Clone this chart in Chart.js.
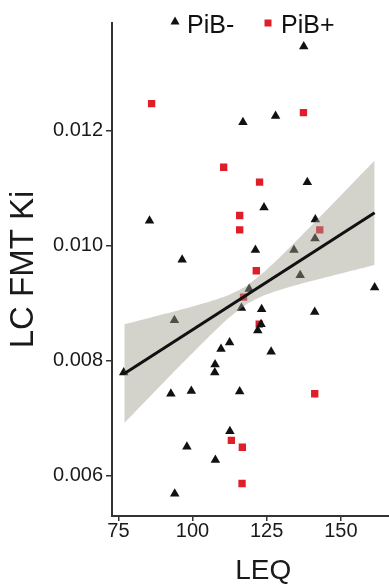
<!DOCTYPE html>
<html>
<head>
<meta charset="utf-8">
<script src="https://cdn.jsdelivr.net/npm/chart.js@4"></script>
<style>
  html, body { margin: 0; padding: 0; background: #fff; overflow: hidden; }
  #wrap { width: 420px; height: 585px; }
</style>
</head>
<body>
<div id="wrap"><canvas id="chart" width="420" height="585"></canvas></div>
<script>
// DATA
const pibNegX = [137.5, 117.0, 128.0, 138.7, 124.1, 85.5, 141.4, 141.3, 121.2, 134.2, 96.5, 136.3, 119.1, 161.4, 116.5, 123.3, 141.2, 93.9, 123.1, 122.0, 112.5, 109.6, 126.5, 76.8, 107.6, 107.5, 92.7, 99.6, 115.9, 112.6, 98.1, 107.7, 94.0];
const pibNegY = [0.01347, 0.01215, 0.01226, 0.01111, 0.01067, 0.01044, 0.01046, 0.01013, 0.00993, 0.00993, 0.00976, 0.00949, 0.00925, 0.00928, 0.00892, 0.00890, 0.00885, 0.00871, 0.00864, 0.00853, 0.00832, 0.00821, 0.00816, 0.00780, 0.00794, 0.00780, 0.00743, 0.00748, 0.00747, 0.00678, 0.00651, 0.00628, 0.00569];
const pibPosX = [86.2, 137.4, 110.5, 122.6, 115.9, 115.9, 142.9, 121.5, 117.2, 122.5, 141.2, 113.1, 116.8, 116.7];
const pibPosY = [0.012475, 0.01232, 0.01137, 0.01111, 0.01053, 0.01028, 0.01028, 0.00957, 0.00911, 0.00864, 0.00743, 0.00662, 0.00650, 0.00587];

// fitted line and confidence band
const fitX = [76.8, 161.4];
const fitY = [0.007774, 0.010579];
const bandX = [77, 85, 95, 105, 112, 118, 124, 131, 140, 150, 161.4];
const bandUpper = [0.008641, 0.008745, 0.008878, 0.009021, 0.009143, 0.009300, 0.009541, 0.009883, 0.010351, 0.010880, 0.011488];
const bandLower = [0.006921, 0.007347, 0.007878, 0.008397, 0.008739, 0.008980, 0.009137, 0.009259, 0.009389, 0.009522, 0.009670];

const xTicks = [75, 100, 125, 150];
const yTicks = [0.006, 0.008, 0.010, 0.012];

const FONT = "'Liberation Sans', Arial, sans-serif";
const pts = (xs, ys) => xs.map((x, i) => ({ x: x, y: ys[i] }));

// custom legend on top of the plot
const topLegend = {
    id: "topLegend",
    afterDraw(chart) {
        const ctx = chart.ctx;
        ctx.save();
        ctx.font = "25px " + FONT;
        ctx.textBaseline = "alphabetic";
        ctx.fillStyle = "#111";
        // triangle
        ctx.beginPath();
        ctx.moveTo(175, 16.5);
        ctx.lineTo(179.5, 24.5);
        ctx.lineTo(170.5, 24.5);
        ctx.closePath();
        ctx.fill();
        ctx.fillText(chart.data.datasets[0].label, 187, 33);
        // square
        ctx.fillStyle = "#e01e2a";
        ctx.fillRect(264.5, 19.5, 7, 7);
        ctx.fillStyle = "#111";
        ctx.fillText(chart.data.datasets[1].label, 281, 33);
        ctx.restore();
    }
};

const ctx = document.getElementById("chart").getContext("2d");

new Chart(ctx, {
    type: "scatter",
    data: {
        datasets: [
            {
                label: "PiB-",
                data: pts(pibNegX, pibNegY),
                pointStyle: "triangle",
                pointRadius: 5.5,
                backgroundColor: "#111",
                borderColor: "#111",
                borderWidth: 0,
                order: 3
            },
            {
                label: "PiB+",
                data: pts(pibPosX, pibPosY),
                pointStyle: "rect",
                pointRadius: 5.2,
                backgroundColor: "#e01e2a",
                borderColor: "#e01e2a",
                borderWidth: 0,
                order: 3
            },
            {
                label: "lower",
                data: pts(bandX, bandLower),
                showLine: true,
                pointRadius: 0,
                borderWidth: 0,
                borderColor: "rgba(0,0,0,0)",
                tension: 0.2,
                fill: false,
                order: 2
            },
            {
                label: "upper",
                data: pts(bandX, bandUpper),
                showLine: true,
                pointRadius: 0,
                borderWidth: 0,
                borderColor: "rgba(0,0,0,0)",
                backgroundColor: "rgba(158,158,142,0.45)",
                tension: 0.2,
                fill: "-1",
                order: 1
            },
            {
                label: "fit",
                data: pts(fitX, fitY),
                showLine: true,
                pointRadius: 0,
                borderColor: "#111",
                borderWidth: 3,
                fill: false,
                order: 0
            }
        ]
    },
    options: {
        responsive: false,
        animation: false,
        layout: { padding: { top: 23, left: 0, right: 0, bottom: 0 } },
        plugins: {
            legend: { display: false },
            tooltip: { enabled: false }
        },
        scales: {
            x: {
                type: "linear",
                min: 72.85,
                max: 174.84,
                afterFit: (s) => { s.height = 69; },
                afterBuildTicks: (s) => { s.ticks = xTicks.map(v => ({ value: v })); },
                border: { display: true, color: "#333", width: 2 },
                grid: { drawOnChartArea: false, drawTicks: true, tickLength: 5, color: "#333", lineWidth: 1.5 },
                ticks: {
                    color: "#1a1a1a",
                    padding: 0,
                    font: { family: FONT, size: 20, lineHeight: 1 }
                },
                title: {
                    display: true,
                    text: "LEQ",
                    color: "#1a1a1a",
                    padding: 0,
                    font: { family: FONT, size: 28, lineHeight: 1 }
                }
            },
            y: {
                type: "linear",
                min: 0.005304,
                max: 0.013878,
                afterFit: (s) => { s.width = 112; },
                afterBuildTicks: (s) => { s.ticks = yTicks.map(v => ({ value: v })); },
                border: { display: true, color: "#333", width: 2 },
                grid: { drawOnChartArea: false, drawTicks: true, tickLength: 6, color: "#333", lineWidth: 1.5 },
                ticks: {
                    color: "#1a1a1a",
                    padding: 3,
                    font: { family: FONT, size: 20 },
                    callback: (v) => Number(v).toFixed(3)
                },
                title: {
                    display: true,
                    text: "LC FMT Ki",
                    color: "#1a1a1a",
                    padding: 4,
                    font: { family: FONT, size: 33 }
                }
            }
        }
    },
    plugins: [topLegend]
});
</script>
</body>
</html>
